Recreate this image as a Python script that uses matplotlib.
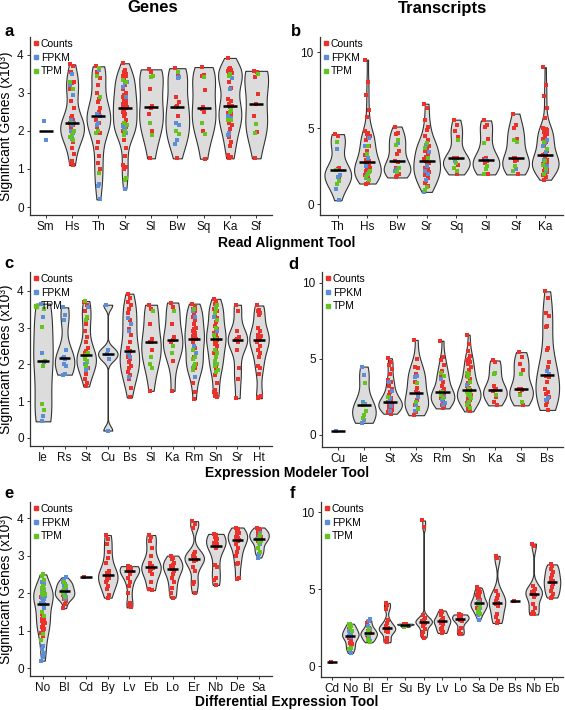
import numpy as np
import matplotlib
matplotlib.use("Agg")
import matplotlib.pyplot as plt
from matplotlib.lines import Line2D

plt.rcParams['font.family'] = ['Liberation Sans', 'DejaVu Sans']

RED = '#e8322b'
BLUE = '#5b8ed6'
GREEN = '#66c21e'

# ---- panel a: genes, read alignment tool ----
a_cats = ["Sm", "Hs", "Th", "Sr", "Sl", "Bw", "Sq", "Ka", "Sf"]
a_counts = [
    [],
    [3.75, 3.7, 3.55, 3.3, 3.25, 3.1, 2.95, 2.8, 2.6, 2.4, 2.35, 2.3, 2.25, 2.2, 2.15, 2.1, 2.0, 1.95, 1.85, 1.7, 1.55, 1.4, 1.2, 1.15, 1.1],
    [3.7, 3.6, 3.55, 3.4, 3.2, 3.0, 2.85, 2.75, 2.6, 2.5, 2.45, 2.4, 2.42, 2.3, 2.2, 2.1, 1.95, 1.7, 1.55, 1.35, 1.15, 1.0],
    [3.78, 3.6, 3.55, 3.5, 3.47, 3.45, 3.45, 3.4, 3.3, 3.2, 3.1, 3.0, 2.95, 2.9, 2.85, 2.8, 2.78, 2.75, 2.7, 2.68, 2.65, 2.64, 2.63,
     2.62, 2.6, 2.55, 2.5, 2.45, 2.4, 2.3, 2.2, 2.15, 2.1, 2.05, 2.0, 1.95, 1.75, 1.55, 1.35, 1.1, 1.05, 1.0],
    [3.62, 3.55, 3.1, 2.65, 2.6, 2.45, 2.0, 1.28],
    [3.65, 3.45, 2.9, 2.75, 2.66, 2.62, 2.4, 1.28],
    [3.68, 3.47, 3.44, 3.07, 2.64, 2.57, 2.5, 2.0, 1.27],
    [3.92, 3.65, 3.62, 3.6, 3.58, 3.57, 3.55, 3.55, 3.52, 3.45, 3.3, 3.12, 3.1, 2.85, 2.78, 2.72, 2.66, 2.62, 2.48, 2.45,
     2.2, 2.15, 2.05, 1.85, 1.72, 1.6, 1.38, 1.32, 1.28],
    [3.58, 3.55, 3.42, 2.98, 2.72, 2.4, 1.98, 1.28],
]
a_fpkm = [
    [2.25, 1.75],
    [3.5, 3.2, 2.95, 2.3, 2.2, 2.15, 2.0, 1.95, 1.8],
    [3.6, 2.45, 2.4, 2.2, 2.15, 0.6, 0.55, 0.2],
    [3.3, 3.25, 3.15, 2.9, 2.2, 2.12, 2.1, 2.05, 1.95, 0.48],
    [],
    [3.42, 3.38, 2.2, 2.15, 1.75, 1.65],
    [],
    [3.4, 3.1, 2.4, 2.35, 1.95, 1.9],
    [],
]
a_tpm = [
    [],
    [3.3, 3.1, 2.2, 2.0, 1.9, 1.85, 1.75],
    [3.65, 3.45, 2.9, 2.0, 1.95, 0.9],
    [3.35, 3.3, 2.2, 2.15, 2.0, 1.9, 0.75, 0.7],
    [3.45, 3.42, 2.2, 1.9],
    [3.55, 2.0, 1.92],
    [3.42, 2.2, 1.93],
    [3.5, 3.45, 2.55, 2.5, 2.3, 2.28],
    [3.5, 2.18, 1.94],
]

# ---- panel b: transcripts, read alignment tool ----
b_cats = ["Th", "Hs", "Bw", "Sr", "Sq", "Sl", "Sf", "Ka"]
b_counts = [
    [4.6, 4.5, 4.05, 2.35, 2.3, 2.25, 1.8],
    [9.5, 8.0, 7.2, 6.2, 5.7, 4.8, 4.7, 4.6, 4.5, 4.4, 4.2, 3.8, 3.5, 3.2, 3.0, 2.9, 2.8, 2.75, 2.6, 2.5, 2.45, 2.4, 2.3,
     2.2, 2.1, 2.0, 1.9, 1.8, 1.7, 1.6, 1.4, 1.35],
    [5.1, 4.7, 4.6, 3.5, 3.3, 2.85, 2.75, 2.4, 2.0, 1.9, 1.75],
    [6.6, 6.3, 5.5, 5.1, 4.9, 4.5, 4.2, 3.9, 3.8, 3.6, 3.5, 3.3, 3.1, 2.95, 2.85, 2.8, 2.7, 2.6, 2.4, 2.3, 2.2, 2.1, 2.0,
     1.9, 1.7, 1.5, 1.4, 1.2],
    [5.55, 5.2, 4.8, 4.4, 3.05, 3.0, 3.0, 2.8, 2.6, 1.95],
    [5.5, 5.2, 5.1, 4.3, 3.0, 2.95, 2.85, 2.7, 1.95],
    [5.95, 5.2, 5.0, 4.3, 3.05, 3.0, 2.9, 2.85, 1.95],
    [9.0, 7.8, 7.1, 6.3, 5.65, 5.0, 4.95, 4.9, 4.85, 4.8, 4.75, 4.6, 4.5, 4.3, 4.1, 3.9, 3.5, 3.3, 3.25, 3.2, 3.0, 2.9,
     2.85, 2.8, 2.75, 2.7, 2.65, 2.6, 2.55, 2.4, 2.3, 2.2, 2.1, 2.0, 1.9, 1.8, 1.6],
]
b_fpkm = [
    [3.6, 1.9, 1.75, 1.0, 0.25],
    [4.35, 3.85, 3.8, 3.0, 2.5, 2.1, 1.9, 1.7],
    [4.0, 2.3, 2.2],
    [3.9, 3.4, 2.5, 2.2, 2.0, 1.6, 0.8],
    [2.8],
    [2.9],
    [2.3],
    [4.2, 4.0, 3.8, 3.4, 2.9, 2.5, 2.2],
]
b_tpm = [
    [4.1, 2.22, 1.5, 1.3],
    [3.85, 3.3, 2.2, 2.0, 1.8, 1.55],
    [4.2, 3.9, 2.4, 2.1],
    [4.0, 3.7, 3.0, 1.1, 0.95],
    [4.2, 2.7, 2.4, 2.2],
    [4.0, 2.5, 2.3, 2.0],
    [4.2, 4.1, 2.5, 2.2],
    [4.1, 3.6, 2.8, 2.6, 2.3, 2.0],
]

# ---- panel c: genes, expression modeler tool ----
c_cats = ["Ie", "Rs", "St", "Cu", "Bs", "Sl", "Ka", "Rm", "Sn", "Sr", "Ht"]
c_counts = [
    [],
    [],
    [3.7, 3.6, 3.45, 3.25, 3.1, 2.9, 2.75, 2.6, 2.45, 2.35, 2.3, 2.27, 2.25, 2.2, 2.1, 2.0, 1.9, 1.75, 1.6, 1.5, 1.4],
    [],
    [3.92, 3.8, 3.7, 3.6, 3.5, 3.4, 3.2, 2.95, 2.8, 2.6, 2.45, 2.35, 2.3, 2.2, 2.15, 2.05, 1.95, 1.9, 1.8, 1.7, 1.6, 1.35, 1.1],
    [3.62, 3.5, 3.1, 2.7, 2.62, 2.6, 2.4, 1.28],
    [3.68, 3.55, 3.1, 2.75, 2.67, 2.6, 2.1, 1.28],
    [3.65, 3.55, 3.5, 3.45, 3.4, 3.3, 3.2, 3.1, 3.0, 2.95, 2.9, 2.85, 2.8, 2.78, 2.75, 2.72, 2.7, 2.68, 2.6, 2.45, 2.2,
     2.0, 1.9, 1.5, 1.25, 1.05],
    [3.78, 3.72, 3.65, 3.6, 3.55, 3.5, 3.45, 3.35, 3.25, 3.15, 3.05, 2.95, 2.9, 2.85, 2.8, 2.75, 2.72, 2.7, 2.69, 2.68,
     2.67, 2.65, 2.6, 2.55, 2.5, 2.4, 2.3, 2.2, 2.1, 2.0, 1.9, 1.7, 1.5, 1.3, 1.25, 1.2, 1.15, 1.12],
    [3.62, 3.45, 2.9, 2.75, 2.68, 2.67, 2.6, 2.4, 1.9, 1.6, 1.08],
    [3.6, 3.48, 3.45, 3.4, 3.35, 3.0, 2.9, 2.8, 2.78, 2.75, 2.72, 2.7, 2.65, 2.6, 2.5, 2.4, 2.3, 2.2, 1.95, 1.9, 1.75,
     1.15, 1.1, 1.08],
]
c_fpkm = [
    [3.65, 3.28, 2.3, 2.07, 0.6, 0.45],
    [3.55, 3.35, 3.2, 2.4, 2.2, 2.17, 2.15, 2.0, 1.95, 1.75, 1.72],
    [3.55, 2.05, 2.0, 1.9, 1.85],
    [3.62, 2.4, 2.28, 2.15, 0.2],
    [3.25, 3.1, 2.9, 2.3, 2.2, 1.65],
    [],
    [],
    [3.45, 3.3, 2.5, 2.3, 1.95, 1.9, 1.65],
    [3.55, 3.3, 2.9, 2.0],
    [],
    [],
]
c_tpm = [
    [3.5, 3.02, 2.1, 1.95, 0.92, 0.75],
    [],
    [3.72, 3.3, 3.2, 2.3, 2.25, 2.15, 2.1, 1.95],
    [],
    [],
    [3.45, 2.2, 2.0, 1.9],
    [3.45, 2.5, 2.3],
    [3.5, 2.4, 2.2, 2.15, 2.0, 1.95, 1.85],
    [3.6, 3.5, 3.4, 3.2, 3.0, 2.8, 2.7, 2.4, 2.3, 2.2, 2.1, 2.0, 1.95, 1.85, 1.8],
    [],
    [],
]

# ---- panel d: transcripts, expression modeler tool ----
d_cats = ["Cu", "Ie", "St", "Xs", "Rm", "Sn", "Ka", "Sl", "Bs"]
d_counts = [
    [],
    [],
    [5.05, 4.8, 4.6, 4.35, 4.0, 3.6, 3.5, 3.2, 3.0, 2.8, 2.6, 2.4, 2.3, 2.2, 2.15, 2.1, 2.05, 2.0, 1.95, 1.9, 1.85, 1.8,
     1.75, 1.7, 1.65, 1.6, 1.5, 1.4],
    [6.25, 5.0, 4.5, 4.4, 4.0, 3.5, 3.1, 2.8, 2.75, 2.3, 2.0, 1.8, 1.5, 1.3],
    [6.2, 5.1, 4.9, 4.6, 4.2, 3.8, 3.5, 3.2, 3.0, 2.9, 2.85, 2.7, 2.6, 2.4, 2.2, 2.0, 1.9, 1.75],
    [6.6, 6.0, 5.5, 5.2, 5.0, 4.9, 4.8, 4.7, 4.5, 4.3, 3.9, 3.7, 3.4, 3.2, 3.1, 3.0, 2.95, 2.9, 2.85, 2.8, 2.7, 2.6,
     2.5, 2.4, 2.3, 2.2, 2.1, 1.9, 1.7, 1.55],
    [4.9, 4.8, 3.2, 3.0, 2.95, 2.9, 2.5, 2.2, 1.95],
    [5.45, 5.1, 4.7, 4.3, 3.05, 3.0, 2.95, 2.7, 1.95],
    [9.45, 9.0, 8.0, 7.8, 7.2, 7.1, 5.7, 5.6, 4.8, 4.5, 3.9, 3.8, 3.5, 3.0, 2.8, 2.7, 2.5, 2.2, 2.0, 1.65],
]
d_fpkm = [
    [0.25],
    [4.5, 3.95, 2.2, 2.05, 1.0, 0.8],
    [3.5, 2.9, 2.4, 2.2, 1.9, 1.6],
    [3.9, 3.8, 2.5, 2.0, 1.6],
    [3.7, 2.5, 2.3, 2.1, 2.0],
    [4.0, 3.3, 2.5, 2.1],
    [],
    [],
    [4.2, 4.0, 2.4, 2.3],
]
d_tpm = [
    [],
    [3.4, 2.0, 1.6, 1.3, 1.1],
    [2.5],
    [3.4, 2.2, 1.7],
    [4.1, 3.9, 2.8, 2.6, 2.4],
    [4.1, 4.0, 3.8, 3.5, 3.0, 2.8, 2.7, 2.6, 2.4, 2.2, 2.0, 1.8],
    [4.1, 4.0, 2.6],
    [4.0, 2.6, 2.2],
    [],
]

# ---- panel e: genes, differential expression tool ----
e_cats = ["No", "Bl", "Cd", "By", "Lv", "Eb", "Lo", "Er", "Nb", "De", "Sa"]
e_counts = [
    [1.9, 1.7, 1.45, 1.38, 1.35, 1.3, 1.28, 1.25, 1.2, 1.15, 1.1, 1.05, 1.0, 0.95, 0.85],
    [2.3, 2.2, 2.1, 2.05, 2.0, 1.95, 1.9, 1.85, 1.8, 1.7, 1.6],
    [2.42],
    [3.55, 3.45, 3.3, 3.1, 2.95, 2.8, 2.6, 2.55, 2.5, 2.48, 2.45, 2.4, 2.35, 2.3, 2.2, 2.1, 1.95, 1.88],
    [2.72, 2.7, 2.68, 2.66, 2.65, 2.63, 2.62, 2.6, 2.58, 2.5, 2.4, 2.3, 2.2, 2.0, 1.75, 1.68, 1.62],
    [3.55, 3.5, 3.4, 3.2, 3.0, 2.8, 2.72, 2.7, 2.68, 2.65, 2.6, 2.5, 2.3, 2.1, 2.08],
    [3.0, 2.95, 2.9, 2.8, 2.75, 2.72, 2.7, 2.65, 2.6, 2.5, 2.4, 2.3, 2.15, 2.0, 1.88],
    [3.92, 3.85, 3.75, 3.1, 3.05, 3.0, 2.95, 2.9, 2.88, 2.85, 2.7, 2.6, 2.3, 2.25, 2.0],
    [3.58, 3.55, 3.5, 3.45, 3.4, 3.35, 3.3, 3.27, 3.25, 3.2, 2.75, 2.7, 2.4, 2.35, 2.22],
    [3.75, 3.7, 3.65, 3.6, 3.55, 3.5, 3.48, 3.45, 3.43, 3.4, 3.3, 3.2, 3.1, 3.0, 2.8, 2.78, 2.4, 2.38],
    [3.75, 3.72, 3.7, 3.68, 3.65, 3.62, 3.6, 3.55, 3.5, 3.45, 3.4],
]
e_fpkm = [
    [2.3, 2.25, 2.1, 2.05, 2.0, 1.95, 1.92, 1.9, 1.88, 1.85, 1.8, 1.75, 1.72, 1.7, 1.6, 0.6, 0.5, 0.4, 0.3, 0.2],
    [2.42, 2.35, 2.3, 2.25, 2.2, 2.15, 2.1, 2.05, 2.0, 1.95, 1.9, 1.85],
    [], [], [], [], [], [], [], [],
    [3.6, 3.5, 3.45, 3.3, 3.2, 3.1, 3.05, 2.95],
]
e_tpm = [
    [2.5, 2.45, 2.35, 2.2, 2.15, 2.1, 2.0, 1.98, 1.95, 1.5, 1.4, 0.9, 0.75],
    [2.3, 2.2, 2.1, 2.0, 1.9],
    [], [], [], [], [], [], [], [],
    [3.55, 3.45, 3.4, 3.35, 3.2, 3.1],
]

# ---- panel f: transcripts, differential expression tool ----
f_cats = ["Cd", "No", "Bl", "Er", "Su", "By", "Lv", "Lo", "Sa", "De", "Bs", "Nb", "Eb"]
f_counts = [
    [0.25],
    [2.4, 2.2, 2.1, 2.0, 1.9, 1.8, 1.7, 1.5, 1.4, 1.3],
    [2.8, 2.5, 2.3, 2.15, 2.1, 2.0, 1.9, 1.8],
    [4.1, 3.95, 3.7, 3.0, 2.8, 2.6, 2.5, 2.45, 2.4, 2.35, 2.3, 2.2, 1.8, 1.6, 1.55],
    [2.75, 2.72, 2.7, 2.68],
    [9.45, 9.0, 3.3, 3.1, 3.0, 2.95, 2.9, 2.85, 2.8, 2.75, 2.6, 2.4, 2.2, 2.0, 1.85],
    [3.6, 3.5, 3.3, 3.1, 3.0, 2.95, 2.9, 2.8, 2.7, 2.5, 2.4, 2.2, 2.15],
    [3.35, 3.3, 3.25, 3.2, 3.15, 3.1, 3.05, 3.0, 2.9, 2.5, 2.3, 2.1, 2.05],
    [5.1, 5.0, 4.9, 4.8, 4.7, 4.6, 4.5, 4.4, 4.3, 4.2, 4.1, 4.0, 3.9, 3.8],
    [7.15, 7.0, 4.9, 4.6, 4.4, 4.2, 4.1, 4.05, 3.9, 3.4, 3.2, 2.9, 2.8],
    [4.25],
    [7.95, 7.8, 5.2, 5.0, 4.9, 4.8, 4.75, 4.7, 4.6, 4.5, 4.0, 3.8, 3.5, 3.4, 3.35],
    [6.6, 6.5, 6.3, 6.1, 5.9, 5.7, 5.5, 5.45, 5.3, 5.1, 4.9, 4.7, 4.5, 4.45],
]
f_fpkm = [
    [],
    [2.3, 2.05, 2.0, 1.95, 1.9, 1.0, 0.85],
    [3.05, 2.9, 2.6, 2.4, 2.2, 2.1, 1.9, 1.7, 1.6],
    [], [], [], [], [],
    [4.2, 4.0, 3.8, 3.6, 3.3, 3.0],
    [], [], [], [],
]
f_tpm = [
    [],
    [2.75, 2.7, 2.6, 2.5, 2.3, 1.2, 1.1],
    [2.4, 2.2, 2.0, 1.7, 1.55],
    [],
    [2.6, 2.55],
    [], [], [],
    [4.1, 3.9, 3.7, 3.5, 3.4],
    [], [], [], [],
]

W, H = 565, 710


def px_axes(fig, left, right, top, bottom):
    return fig.add_axes([left / W, 1 - bottom / H, (right - left) / W, (bottom - top) / H])


def density(vals):
    v = np.asarray(vals, dtype=float)
    sd = v.std(ddof=1)
    iqr = np.percentile(v, 75) - np.percentile(v, 25)
    lo = min(sd, iqr / 1.34) if iqr > 0 else sd
    bw = 0.9 * lo * len(v) ** -0.2
    ys = np.linspace(v.min(), v.max(), 300)
    d = np.exp(-0.5 * ((ys[:, None] - v[None, :]) / bw) ** 2).sum(axis=1)
    return ys, d / d.max()


def draw_panel(ax, cats, counts, fpkm, tpm, ylim, yticks):
    for i, cat in enumerate(cats):
        x = i + 1
        allv = counts[i] + fpkm[i] + tpm[i]
        if len(allv) > 2:
            ys, d = density(allv)
            ax.fill_betweenx(ys, x - 0.45 * d, x + 0.45 * d, facecolor='#dcdcdc',
                             edgecolor='#333333', linewidth=0.8, zorder=1)
        k = 0
        for vals, col in ((counts[i], RED), (fpkm[i], BLUE), (tpm[i], GREEN)):
            if not vals:
                continue
            offs = np.array([((k + j) * 0.618034) % 1 - 0.5 for j in range(len(vals))]) * 0.16
            k += len(vals)
            ax.scatter(x + offs, vals, s=5, marker='s', color=col, linewidths=0, zorder=2)
        med = np.median(allv)
        ax.hlines(med, x - 0.27, x + 0.27, color='black', linewidth=1.8, zorder=3)

    ax.set_xlim(0.4, len(cats) + 0.6)
    ax.set_ylim(*ylim)
    ax.set_xticks(range(1, len(cats) + 1))
    ax.set_xticklabels(cats)
    ax.set_yticks(yticks)
    for s in ('top', 'right'):
        ax.spines[s].set_visible(False)
    for s in ('left', 'bottom'):
        ax.spines[s].set_color('#333333')
        ax.spines[s].set_linewidth(0.9)
    ax.tick_params(axis='both', length=2.5, width=0.7, color='#333333', labelsize=8.5,
                   labelcolor='#111111', pad=2)
    handles = [Line2D([], [], marker='s', linestyle='', markersize=2.3, color=c) for c in (RED, BLUE, GREEN)]
    ax.legend(handles, ["Counts", "FPKM", "TPM"], loc='upper left', frameon=False, fontsize=7.5,
              handletextpad=0.05, handlelength=0.8, borderaxespad=0.1, borderpad=0.1,
              labelspacing=0.35)


fig = plt.figure(figsize=(W / 100, H / 100), dpi=100)

ax_a = px_axes(fig, 30, 272, 37, 215)
draw_panel(ax_a, a_cats, a_counts, a_fpkm, a_tpm, (-0.21, 4.47), [0, 1, 2, 3, 4])
ax_b = px_axes(fig, 320, 563, 37, 215)
draw_panel(ax_b, b_cats, b_counts, b_fpkm, b_tpm, (-0.72, 10.99), [0, 5, 10])
ax_c = px_axes(fig, 30, 272, 272, 446)
draw_panel(ax_c, c_cats, c_counts, c_fpkm, c_tpm, (-0.22, 4.51), [0, 1, 2, 3, 4])
ax_d = px_axes(fig, 322, 563, 272, 447)
draw_panel(ax_d, d_cats, d_counts, d_fpkm, d_tpm, (-0.79, 10.72), [0, 5, 10])
ax_e = px_axes(fig, 30, 272, 502, 676)
draw_panel(ax_e, e_cats, e_counts, e_fpkm, e_tpm, (-0.21, 4.43), [0, 1, 2, 3, 4])
ax_f = px_axes(fig, 321, 563, 502, 677)
draw_panel(ax_f, f_cats, f_counts, f_fpkm, f_tpm, (-0.71, 10.65), [0, 5, 10])

for ax in (ax_a, ax_c, ax_e):
    ax.set_ylabel("Significant Genes (x10³)", fontsize=10, labelpad=3)


def ftext(x, y, s, **kw):
    fig.text(x / W, 1 - y / H, s, ha='center', va='center', fontweight='bold', **kw)


ftext(153, 8, "Genes", fontsize=12)
ftext(443, 8, "Transcripts", fontsize=12)
ftext(287, 243, "Read Alignment Tool", fontsize=10)
ftext(287, 473, "Expression Modeler Tool", fontsize=10)
ftext(287, 702, "Differential Expression Tool", fontsize=10)
for lab, x, y in (("a", 9, 32), ("b", 296, 32), ("c", 9, 264), ("d", 293, 265), ("e", 9, 493), ("f", 293, 493)):
    ftext(x, y, lab, fontsize=12)

fig.savefig("out.png", dpi=100)
